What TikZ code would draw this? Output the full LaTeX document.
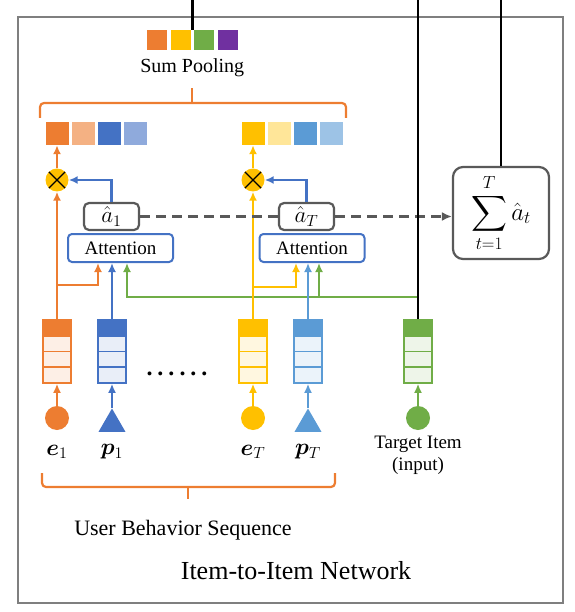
\RequirePackage{fix-cm}
\documentclass[tikz,border=0pt]{standalone}
\usepackage{amsmath,bm}
\usepackage{fontspec}
\setmainfont{Liberation Serif}
\usetikzlibrary{arrows.meta,positioning,shapes.geometric,fit,calc}
\definecolor{orng}{HTML}{ED7D31}
\definecolor{lorng}{HTML}{F4B183}
\definecolor{gold}{HTML}{FFC000}
\definecolor{lgold}{HTML}{FFE699}
\definecolor{grn}{HTML}{70AD47}
\definecolor{purp}{HTML}{7030A0}
\definecolor{blu}{HTML}{4472C4}
\definecolor{lblu}{HTML}{8FAADC}
\definecolor{mblu}{HTML}{5B9BD5}
\definecolor{lblutwo}{HTML}{9DC3E6}
\definecolor{dgray}{HTML}{595959}
\definecolor{framegray}{HTML}{7F7F7F}
\tikzset{
  frame/.style={draw=framegray, line width=2.6pt, inner sep=0pt},
  blk/.style={draw=black, line width=2.6pt},
  sq/.style={minimum size=23pt, inner sep=0pt},
  psq/.style={minimum size=20pt, inner sep=0pt},
  col/.style={minimum width=28pt, minimum height=63pt, inner sep=0pt, line width=1.6pt},
  dot/.style={circle, minimum size=24pt, inner sep=0pt},
  tri/.style={regular polygon, regular polygon sides=3, minimum size=31pt, inner sep=0pt},
  mult/.style={circle, fill=gold, minimum size=23pt, inner sep=0pt,
    path picture={\draw[line width=1.1pt] (path picture bounding box.north west) -- (path picture bounding box.south east)
      (path picture bounding box.north east) -- (path picture bounding box.south west);}},
  attbox/.style={draw=blu, fill=white, rounded corners=4pt, line width=2pt, minimum width=105pt, minimum height=28pt, inner sep=0pt, font=\fontsize{19}{19}\selectfont},
  abox/.style={draw=dgray, fill=white, rounded corners=5pt, line width=2.2pt, minimum width=55pt, minimum height=27pt, inner sep=0pt, font=\fontsize{23}{23}\selectfont},
  sumbox/.style={draw=dgray, fill=white, rounded corners=10pt, line width=2.2pt, minimum width=96pt, minimum height=92pt, inner sep=0pt, font=\fontsize{25}{25}\selectfont},
  arrow/.style={-{Latex[length=9pt,width=8pt]}, line width=2.2pt},
  dasharrow/.style={draw=dgray, line width=2.2pt, dash pattern=on 10pt off 6pt},
  brace/.style={draw=orng, line width=2.2pt, rounded corners=4pt},
  lbl/.style={font=\fontsize{23}{23}\selectfont},
  txt/.style={font=\fontsize{19}{22}\selectfont, align=center}
}

\begin{document}
\begin{tikzpicture}[x=1pt, y=-1pt]
  \useasboundingbox (0,0) rectangle (574,612);
  \coordinate (top) at (0,0);
  \node[frame, minimum width=545pt, minimum height=586pt] (net) at (290.5,310) {};
  \node[font=\fontsize{26}{26}\selectfont] (nettxt) at (296,571) {Item-to-Item Network};
  % pooled vector
  \foreach \c [count=\i] in {orng,gold,grn,purp}
    \node[psq, fill=\c] (s\i) at ({157+23.5*(\i-1)},40) {};
  \node[fit=(s1)(s4), inner sep=0pt] (pool) {};
  \node[font=\fontsize{20}{20}\selectfont, below=5pt of pool] (pooltxt) {Sum Pooling};
  \draw[brace] (40,118) -- (40,103) -- (346,103) -- (346,118);
  \draw[brace] (192,103) -- (192,88);
  % weighted vectors
  \foreach \c [count=\i] in {orng,lorng,blu,lblu}
    \node[sq, fill=\c] (o1\i) at ({57+26*(\i-1)},133.5) {};
  \foreach \c [count=\i] in {gold,lgold,mblu,lblutwo}
    \node[sq, fill=\c] (o2\i) at ({253+26*(\i-1)},133.5) {};
  \node[mult] (m1) at (57,180) {};
  \node[mult] (mT) at (253,180) {};
  \node[attbox] (att1) at (120.5,248) {Attention};
  \node[attbox] (attT) at (312,248) {Attention};
  \node[abox] (a1) at (111.5,216.5) {$\hat{a}_1$};
  \node[abox] (aT) at (306.5,216.5) {$\hat{a}_T$};
  \node[sumbox] (sum) at (501,213) {$\displaystyle\sum_{t=1}^{T}\hat{a}_t$};
  % embeddings
  \foreach \n/\x/\c in {e1/57/orng, p1/112/blu, eT/253/gold, pT/308/mblu, tgt/418/grn} {
    \node[col, draw=\c, fill=\c!12] (\n) at (\x,351.5) {};
    \fill[\c] (\n.north west) rectangle ++(28,17);
    \draw[\c, line width=1.6pt] (\n.north west) ++(0,17) -- ++(28,0) ++(-28,15.3) -- ++(28,0) ++(-28,15.3) -- ++(28,0);
  }
  \node[font=\fontsize{24}{24}\selectfont\bfseries] (dots) at (177,374) {.\hspace{5pt}.\hspace{5pt}.\hspace{5pt}.\hspace{5pt}.\hspace{5pt}.};
  \node[dot, fill=orng] (e1in) at (57,418) {};
  \node[tri, fill=blu] (p1in) at (112,424) {};
  \node[dot, fill=gold] (eTin) at (253,418) {};
  \node[tri, fill=mblu] (pTin) at (308,424) {};
  \node[dot, fill=grn] (tgtin) at (418,418) {};
  \node[lbl] (e1lbl) at (57,452) {$\bm{e}_1$};
  \node[lbl] (p1lbl) at (112,452) {$\bm{p}_1$};
  \node[lbl] (eTlbl) at (253,452) {$\bm{e}_T$};
  \node[lbl] (pTlbl) at (308,452) {$\bm{p}_T$};
  \node[txt] (tgtlbl) at (418,455) {Target Item\\(input)};
  \draw[brace] (42,473) -- (42,487) -- (335,487) -- (335,473);
  \draw[brace] (188,487) -- (188,499);
  \node[font=\fontsize{22}{22}\selectfont] (seqtxt) at (183,530) {User Behavior Sequence};
  % connectors
  \draw[arrow, orng] (e1in) -- (e1);
  \draw[arrow, blu] (p1in) -- (p1);
  \draw[arrow, gold] (eTin) -- (eT);
  \draw[arrow, mblu] (pTin) -- (pT);
  \draw[arrow, grn] (tgtin) -- (tgt);
  \coordinate (g1) at (127,297);
  \coordinate (g2) at (319,297);
  \coordinate (b1) at (98,285);
  \coordinate (b2) at (296,287);
  \draw[arrow, grn] (tgt.north) |- (g1) -- (g1 |- att1.south);
  \draw[arrow, grn] (g2) -- (g2 |- attT.south);
  \draw[arrow, orng] (e1.north) -- (m1.south);
  \draw[arrow, orng] (e1.north |- b1) -- (b1) -- (b1 |- att1.south);
  \draw[arrow, blu] (p1.north) -- (p1.north |- att1.south);
  \draw[arrow, gold] (eT.north) -- (mT.south);
  \draw[arrow, gold] (eT.north |- b2) -- (b2) -- (b2 |- attT.south);
  \draw[arrow, mblu] (pT.north) -- (pT.north |- attT.south);
  \draw[arrow, blu] (a1.north) |- (m1.east);
  \draw[arrow, blu] (aT.north) |- (mT.east);
  \draw[arrow, orng] (m1) -- (o11);
  \draw[arrow, gold] (mT) -- (o21);
  \draw[dasharrow] (a1.east) -- (aT.west);
  \draw[dasharrow, -{Latex[length=10pt,width=9pt]}] (aT.east) -- (aT.east -| sum.west);
  \draw[blk] (pool.north) -- (pool.north |- top);
  \draw[blk] (tgt.north) -- (tgt.north |- top);
  \draw[blk] (sum.north) -- (sum.north |- top);
\end{tikzpicture}
\end{document}
